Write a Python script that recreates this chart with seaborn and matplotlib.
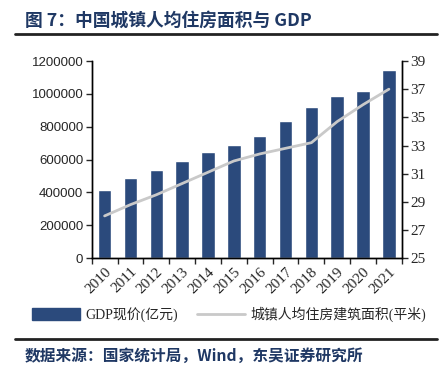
import numpy as np
import pandas as pd
import seaborn as sns
import matplotlib.pyplot as plt
from matplotlib.patches import Patch
from matplotlib.lines import Line2D

years = ['2010', '2011', '2012', '2013', '2014', '2015',
         '2016', '2017', '2018', '2019', '2020', '2021']
gdp = [412119, 487940, 538580, 592963, 643563, 688858,
       746395, 832036, 919281, 986515, 1015986, 1143670]
area = [28.0, 28.8, 29.5, 30.3, 31.1, 31.9, 32.4, 32.8, 33.2, 34.7, 35.9, 37.0]

df = pd.DataFrame({'year': years, 'gdp': gdp, 'area': area})
df['pos'] = np.arange(len(df))

sns.set_style('white')
plt.rcParams['font.family'] = ['Liberation Serif', 'Noto Sans CJK SC', 'DejaVu Sans']

bar_color = '#2B4A7C'
line_color = '#C9C9C9'
navy = '#1F3864'

fig = plt.figure(figsize=(4.45, 3.72), dpi=100)
ax = fig.add_axes([0.206, 0.306, 0.697, 0.530])

sns.barplot(data=df, x='year', y='gdp', color=bar_color, width=0.52,
            saturation=1, ax=ax)
ax.set_xlim(-0.5, len(years) - 0.5)
ax.set_ylim(0, 1200000)
ax.set_yticks(np.arange(0, 1200001, 200000))
ax.set_yticklabels([f'{int(v)}' for v in np.arange(0, 1200001, 200000)],
                   family='Liberation Sans', fontsize=9.5)
ax.set_xlabel('')
ax.set_ylabel('')

# category ticks between bars, labels at bar centres
ax.set_xticks(np.arange(-0.5, len(years)), minor=False)
ax.set_xticklabels([])
ax.set_xticks(df['pos'], minor=True)
ax.set_xticklabels(years, minor=True, rotation=45, ha='right',
                   rotation_mode='anchor', fontsize=11)
ax.tick_params(axis='x', which='major', direction='out', length=4, width=1,
               bottom=True)
ax.tick_params(axis='x', which='minor', length=0, pad=5)
ax.tick_params(axis='y', direction='out', length=4, width=1, left=True, pad=2)

ax2 = ax.twinx()
sns.lineplot(x=df['pos'], y=df['area'], color=line_color, linewidth=2,
             ax=ax2)
ax2.set_ylim(25, 39)
ax2.set_yticks(np.arange(25, 40, 2))
ax2.set_yticklabels([str(v) for v in range(25, 40, 2)], fontsize=11)
ax2.tick_params(axis='y', direction='out', length=4, width=1, right=True, pad=2)
ax2.set_xlabel('')
ax2.set_ylabel('')

for a in (ax, ax2):
    for s in a.spines.values():
        s.set_color('black')
        s.set_linewidth(1)
    a.spines['top'].set_visible(False)

handles = [Patch(facecolor=bar_color, edgecolor=bar_color),
           Line2D([0], [0], color=line_color, linewidth=2)]
labels = ['GDP现价(亿元)', '城镇人均住房建筑面积(平米)']
fig.legend(handles, labels, loc='center', bbox_to_anchor=(0.515, 0.155),
           ncol=2, frameon=False, fontsize=10, handlelength=3.4,
           handleheight=0.9, columnspacing=1.4, handletextpad=0.4)

fig.text(0.056, 0.945, '图 7：中国城镇人均住房面积与 GDP', color=navy,
         fontsize=12.8, fontweight='bold', va='center',
         family=['Noto Sans CJK SC', 'DejaVu Sans'])
fig.add_artist(Line2D([0.034, 0.982], [0.908, 0.908], color='#222222',
                      linewidth=2))
fig.add_artist(Line2D([0.034, 0.982], [0.089, 0.089], color='#222222',
                      linewidth=2))
fig.text(0.056, 0.043, '数据来源：国家统计局，Wind，东吴证券研究所', color=navy,
         fontsize=11.3, fontweight='bold', va='center',
         family=['Noto Sans CJK SC', 'DejaVu Sans'])

plt.savefig('out.png', dpi=100)
